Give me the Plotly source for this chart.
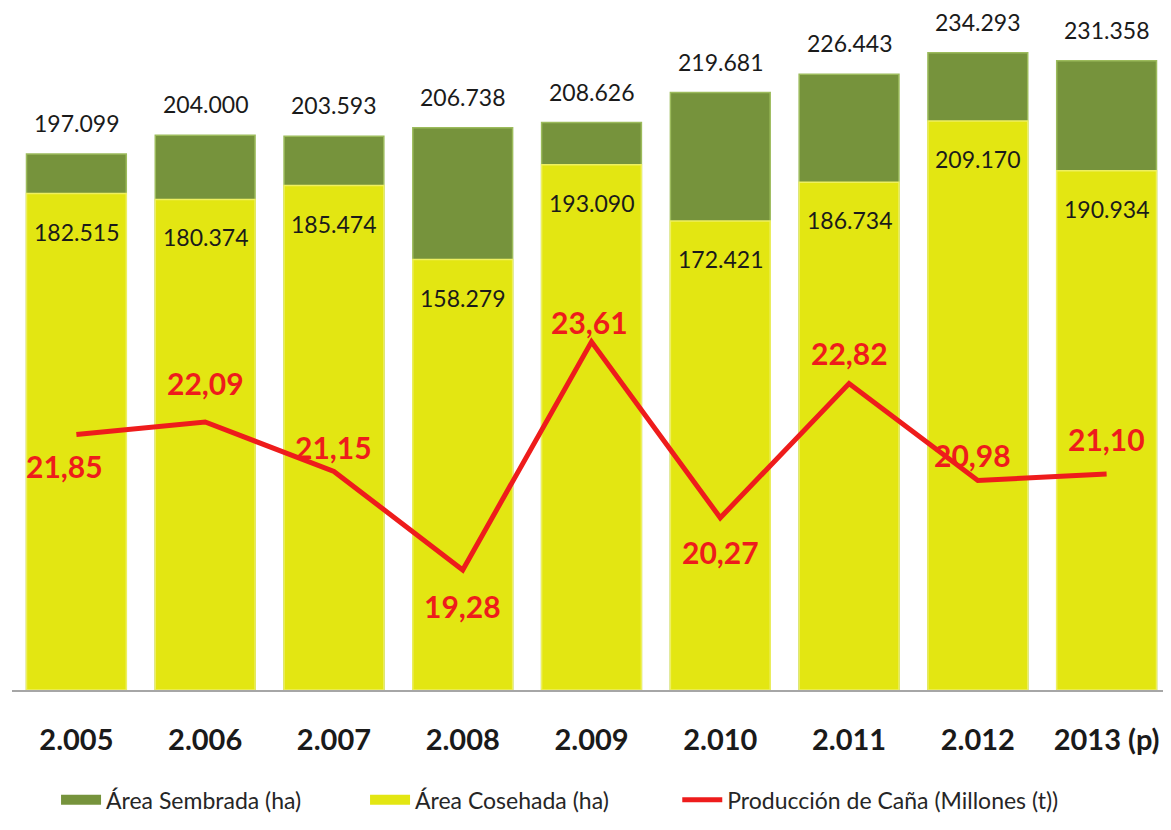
import plotly.graph_objects as go

FONT = "Lato, Carlito, Calibri, sans-serif"

anios = ["2.005", "2.006", "2.007", "2.008", "2.009", "2.010", "2.011", "2.012", "2013 (p)"]
area_sembrada = [197099, 204000, 203593, 206738, 208626, 219681, 226443, 234293, 231358]
area_cosechada = [182515, 180374, 185474, 158279, 193090, 172421, 186734, 209170, 190934]
produccion = [21.85, 22.09, 21.15, 19.28, 23.61, 20.27, 22.82, 20.98, 21.10]

# desplazamientos de las etiquetas rojas (px) para que no pisen la línea
prod_xshift = [-12, 0, 0, 0, -2, 0, 0, -5, 0]
prod_yshift = [-31, 39, 24, -36, 20, -34, 30, 25, 35]

VERDE = "#76933c"
AMARILLO = "#e3e612"
ROJO = "#ee1c1c"


def fmt_miles(v):
    return f"{v:,}".replace(",", ".")


def fmt_dec(v):
    return f"{v:.2f}".replace(".", ",")


fig = go.Figure()

fig.add_trace(go.Bar(
    x=anios, y=area_sembrada, name="Área Sembrada (ha)",
    marker=dict(color=VERDE, line=dict(color="#9cbb5c", width=1.5)),
    legendgroup="s", showlegend=False, hoverinfo="x+y",
))
fig.add_trace(go.Bar(
    x=anios, y=area_cosechada, name="Área Cosehada (ha)",
    marker=dict(color=AMARILLO, line=dict(color="#eef060", width=1.5)),
    legendgroup="c", showlegend=False, hoverinfo="x+y",
))
fig.add_trace(go.Scatter(
    x=anios, y=produccion, name="Producción de Caña (Millones (t))",
    mode="lines", yaxis="y2", legendgroup="p", legend="legend2",
    line=dict(color=ROJO, width=5),
))
# entradas de leyenda con símbolo rectangular ancho (como en Excel)
fig.add_trace(go.Scatter(x=[None], y=[None], mode="lines", name="Área Sembrada (ha)",
                         legendgroup="s", line=dict(color=VERDE, width=13), legendrank=1))
fig.add_trace(go.Scatter(x=[None], y=[None], mode="lines", name="Área Cosehada (ha)",
                         legendgroup="c", line=dict(color=AMARILLO, width=13), legendrank=2))

annotations = []
for i, (s, c) in enumerate(zip(area_sembrada, area_cosechada)):
    annotations.append(dict(
        x=i, y=s, xref="x", yref="y", text=fmt_miles(s), showarrow=False,
        yanchor="middle", yshift=31, font=dict(family=FONT, size=23, color="#1a1a1a"),
    ))
    annotations.append(dict(
        x=i, y=c, xref="x", yref="y", text=fmt_miles(c), showarrow=False,
        yanchor="middle", yshift=-38, font=dict(family=FONT, size=23, color="#1a1a1a"),
    ))
for i, (p, dx, dy) in enumerate(zip(produccion, prod_xshift, prod_yshift)):
    annotations.append(dict(
        x=i, y=p, xref="x", yref="y2", text=f"<b>{fmt_dec(p)}</b>", showarrow=False,
        yanchor="middle", xshift=dx, yshift=dy,
        font=dict(family=FONT, size=30, color=ROJO),
    ))

leyenda = dict(
    orientation="h", y=-0.161, yanchor="middle", xanchor="left",
    font=dict(family=FONT, size=23, color="#262626"),
    itemwidth=40, tracegroupgap=0, bgcolor="rgba(0,0,0,0)",
)

# la página tiene 8 px de margen; se compensa con el tamaño y los rangos
fig.update_layout(
    width=1163, height=822,
    margin=dict(l=4, r=0, t=0, b=140),
    paper_bgcolor="white", plot_bgcolor="white",
    barmode="overlay", bargap=0.225,
    font=dict(family=FONT, size=20, color="#1a1a1a"),
    showlegend=True,
    legend=dict(leyenda, x=0.038, entrywidth=254),
    legend2=dict(leyenda, x=0.574),
    xaxis=dict(
        type="category", showgrid=False, zeroline=False,
        showline=True, linecolor="#a6a6a6", linewidth=2,
        ticks="", ticklabelstandoff=23,
        tickfont=dict(family=FONT, size=29, color="#1a1a1a", weight="bold"),
    ),
    yaxis=dict(range=[0, 250760], visible=False, showgrid=False),
    yaxis2=dict(range=[17.0, 29.95], overlaying="y", visible=False, showgrid=False),
    annotations=annotations,
)

fig.write_html("out.html")
